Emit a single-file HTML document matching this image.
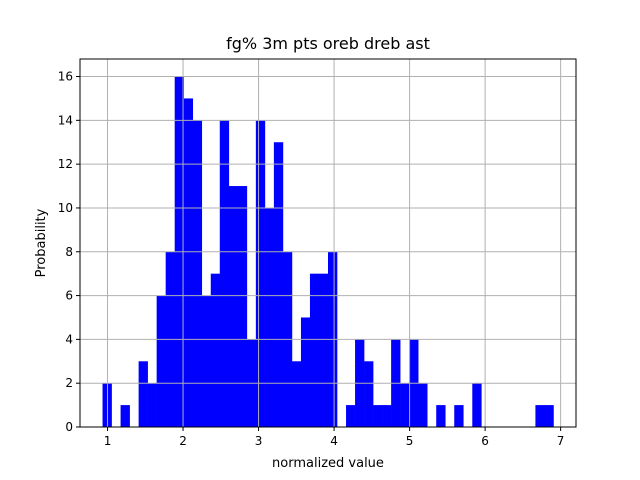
<!DOCTYPE html>
<html><head><meta charset="utf-8"><style>
body{margin:0;background:#fff;}
svg{display:block;font-family:"DejaVu Sans","Liberation Sans",sans-serif;}
</style></head><body>
<svg id="chart" width="640" height="480" xmlns="http://www.w3.org/2000/svg">
<rect width="640" height="480" fill="#fff"/>
<g id="grid"></g>
<g id="bars"></g>
<g id="axes"></g>
<text x="328" y="49" font-size="16" text-anchor="middle">fg% 3m pts oreb dreb ast</text>
<text x="328" y="467" font-size="13" text-anchor="middle">normalized value</text>
<text x="45" y="243" font-size="13" text-anchor="middle" transform="rotate(-90 45 243)">Probability</text>
</svg>
<script>
const binStart = 0.934;
const binEnd = 6.905;
const counts = [2,0,1,0,3,2,6,8,16,15,14,6,7,14,11,11,4,14,10,13,8,3,5,7,7,8,0,1,4,3,1,1,4,2,4,2,0,1,0,1,0,2,0,0,0,0,0,0,1,1];
const xTicks = [1,2,3,4,5,6,7];
const yTicks = [0,2,4,6,8,10,12,14,16];
const L=80,R=576,T=59,B=427;
const span=binEnd-binStart, xmin=binStart-0.05*span, xmax=binEnd+0.05*span;
const ymax=Math.max(...counts)*1.05;
const X=v=>L+(v-xmin)/(xmax-xmin)*(R-L);
const Y=v=>B-v/ymax*(B-T);
const NS='http://www.w3.org/2000/svg';
function mk(tag,attrs,parent){const e=document.createElementNS(NS,tag);for(const k in attrs)e.setAttribute(k,attrs[k]);parent.appendChild(e);return e;}
const grid=document.getElementById('grid'),bars=document.getElementById('bars'),axes=document.getElementById('axes');
const w=span/counts.length;
counts.forEach((c,i)=>{if(!c)return;const x0=X(binStart+i*w),x1=X(binStart+(i+1)*w);
const r=mk('rect',{x:x0,y:Y(c),width:x1-x0+0.3,height:B-Y(c),fill:'#0000ff'},bars);

});
xTicks.forEach(t=>{const x=X(t);
const g=mk('line',{x1:x,x2:x,y1:T,y2:B,stroke:'#b0b0b0','stroke-width':1},grid);


const tk=mk('line',{x1:x,x2:x,y1:B,y2:B+4,stroke:'#000'},axes);


const tx=mk('text',{x:x,y:B+18,'font-size':12,'text-anchor':'middle'},axes);tx.textContent=t;

});
yTicks.forEach(t=>{const y=Y(t);
const g=mk('line',{x1:L,x2:R,y1:y,y2:y,stroke:'#b0b0b0','stroke-width':1},grid);


const tk=mk('line',{x1:L-4,x2:L,y1:y,y2:y,stroke:'#000'},axes);


const tx=mk('text',{x:L-7,y:y+4,'font-size':12,'text-anchor':'end'},axes);tx.textContent=t;

});
const f=mk('rect',{x:L,y:T,width:R-L,height:B-T,fill:'none',stroke:'#000','stroke-width':1},axes);


// grid over bars like matplotlib default here
document.getElementById('chart').insertBefore(bars,grid);
</script>
</body></html>
